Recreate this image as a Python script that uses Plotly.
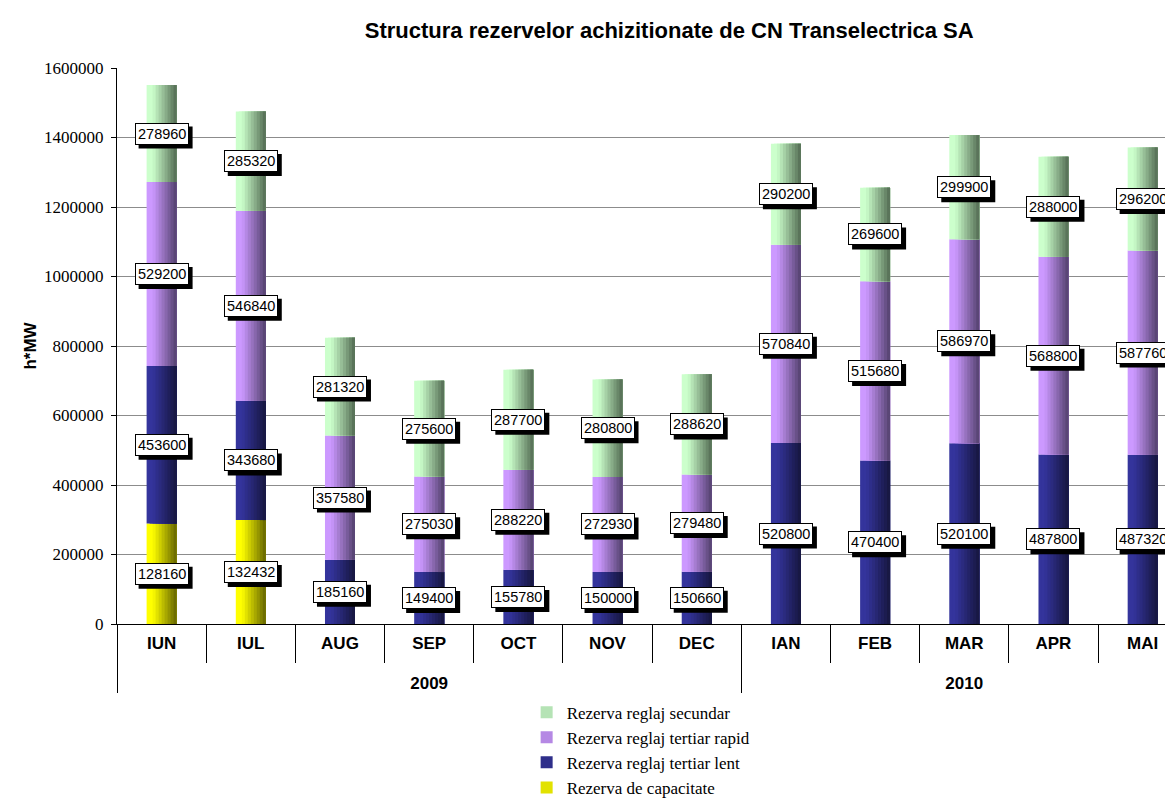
import plotly.graph_objects as go

# data
years = ["2009"] * 7 + ["2010"] * 5
months = ["IUN", "IUL", "AUG", "SEP", "OCT", "NOV", "DEC", "IAN", "FEB", "MAR", "APR", "MAI"]

# capacitate bars are drawn taller than their labels say, keep both as seen
capacitate = [289000, 299000, None, None, None, None, None, None, None, None, None, None]
capacitate_labels = [128160, 132432, None, None, None, None, None, None, None, None, None, None]
lent = [453600, 343680, 185160, 149400, 155780, 150000, 150660, 520800, 470400, 520100, 487800, 487320]
rapid = [529200, 546840, 357580, 275030, 288220, 272930, 279480, 570840, 515680, 586970, 568800, 587760]
secundar = [278960, 285320, 281320, 275600, 287700, 280800, 288620, 290200, 269600, 299900, 288000, 296200]

series = [
    ("Rezerva de capacitate", capacitate, capacitate_labels, "#FFFF00", "#6E6E00"),
    ("Rezerva reglaj tertiar lent", lent, lent, "#34349C", "#181844"),
    ("Rezerva reglaj tertiar rapid", rapid, rapid, "#CC99FF", "#5A4676"),
    ("Rezerva reglaj secundar", secundar, secundar, "#CCFFCC", "#5A745A"),
]


def mix(c1, c2, t):
    a = [int(c1[i:i + 2], 16) for i in (1, 3, 5)]
    b = [int(c2[i:i + 2], 16) for i in (1, 3, 5)]
    return "rgb(%d,%d,%d)" % tuple(round(a[j] + (b[j] - a[j]) * t) for j in range(3))


# leading <br> pushes the year row further down, like the original
year_labels = ["<br>" + y for y in years]

fig = go.Figure()
bw = 0.336
n = 10
base = [0] * len(months)
annotations = []
shapes = []

for name, vals, labels, c_left, c_right in series:
    ys = [v if v else None for v in vals]
    # horizontal shading done with overlapping slices, darker to the right
    for k in range(n):
        t = max(0, (k - 1.5) / (n - 2.5))
        fig.add_trace(go.Bar(
            x=[year_labels, months], y=ys, base=base,
            width=bw * (n - k) / n, offset=-bw / 2 + k * bw / n,
            marker=dict(color=mix(c_left, c_right, min(t, 1)), line=dict(width=0)),
            name=name, showlegend=(k == 3),
            hoverinfo="skip",
        ))
    for i, (v, lab) in enumerate(zip(vals, labels)):
        if v:
            mid = base[i] + v / 2
            # black drop shadow behind each value box
            shapes.append(dict(
                type="rect", xref="x", yref="y", xsizemode="pixel", ysizemode="pixel",
                xanchor=i, yanchor=mid, x0=-23, x1=31, y0=-15, y1=7,
                fillcolor="black", line=dict(width=0), layer="above",
            ))
            annotations.append(dict(
                x=i, y=mid, xref="x", yref="y", text=str(lab), showarrow=False,
                font=dict(family="Arial", size=14.5, color="black"),
                bgcolor="white", bordercolor="black", borderwidth=1, borderpad=2,
            ))
    base = [b + (v or 0) for b, v in zip(base, vals)]

annotations.append(dict(
    x=-0.093, y=0.5, xref="paper", yref="paper", text="<b>h*MW</b>", showarrow=False,
    textangle=-90, font=dict(family="Arial", size=17, color="black"),
))

# the page body adds 8px around the figure, margins are trimmed for it
fig.update_layout(
    barmode="overlay",
    width=1173, height=812,
    margin=dict(l=109, r=0, t=60, b=196, autoexpand=False),
    paper_bgcolor="white", plot_bgcolor="white",
    title=dict(text="<b>Structura rezervelor achizitionate de CN Transelectrica SA</b>",
               x=0.519, xref="paper", xanchor="center", y=0.973, yref="container", yanchor="middle",
               font=dict(family="Arial", size=22, color="black")),
    legend=dict(traceorder="reversed", x=0.385, xanchor="left", y=-0.127, yanchor="top",
                font=dict(family="Liberation Serif", size=17, color="black"),
                tracegroupgap=0, bgcolor="rgba(0,0,0,0)"),
    annotations=annotations,
    shapes=shapes,
)

fig.update_xaxes(type="multicategory", range=[-0.5, 11.43], automargin=False,
                 showline=True, linecolor="black", linewidth=1,
                 showdividers=True, dividercolor="black", dividerwidth=1,
                 ticks="outside", tickson="boundaries", ticklen=38, tickcolor="black",
                 ticklabelstandoff=4, showgrid=False,
                 tickfont=dict(family="Arial", size=17, color="black", weight="bold"))
fig.update_yaxes(range=[0, 1600000], dtick=200000, tickformat="d", automargin=False,
                 showline=True, linecolor="black", linewidth=1,
                 ticks="outside", ticklen=5, tickcolor="black", ticklabelstandoff=4,
                 gridcolor="#8c8c8c", gridwidth=1, zeroline=False,
                 tickfont=dict(family="Liberation Serif", size=17, color="black"))

fig.write_html("out.html")
